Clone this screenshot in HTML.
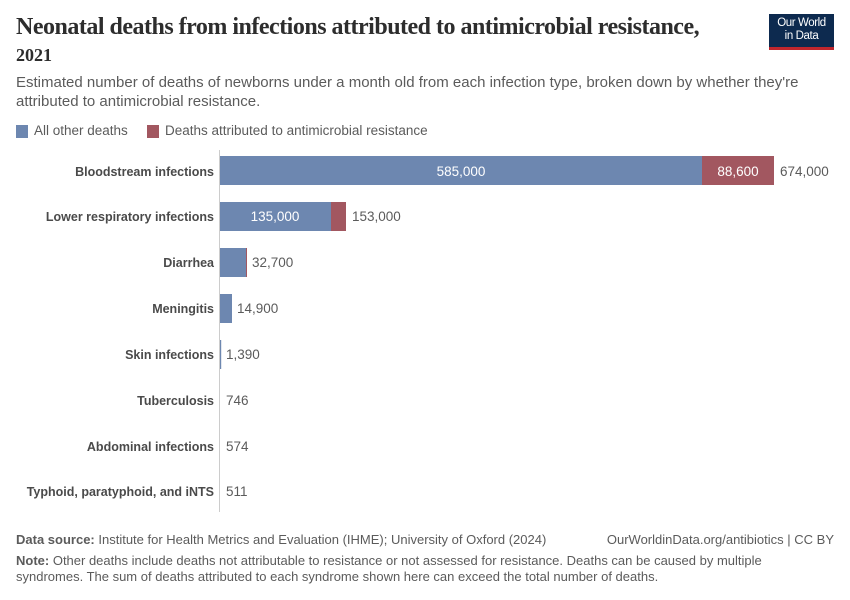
<!DOCTYPE html><html><head><meta charset="utf-8"><style>
body{margin:0;background:#fff;font-family:"Liberation Sans",sans-serif;}
.t{position:absolute;white-space:nowrap}
</style></head><body>
<div style="position:relative;width:850px;height:600px;overflow:hidden">
<div class="t" style="left:16px;top:14px;font-family:'Liberation Serif',serif;font-size:24px;font-weight:bold;color:#2d2d2d;letter-spacing:-0.5px">Neonatal deaths from infections attributed to antimicrobial resistance,</div>
<div class="t" style="left:16px;top:45px;font-family:'Liberation Serif',serif;font-size:18px;font-weight:bold;color:#2d2d2d">2021</div>
<div style="position:absolute;left:769px;top:14px;width:65px;height:36px;background:#0d2a4f;border-bottom:3px solid #c0262d;color:#fff;font-size:11.5px;line-height:13px;text-align:center;padding-top:3px;box-sizing:border-box;letter-spacing:-0.4px">Our World<br>in Data</div>
<div class="t" style="left:16px;top:73px;font-size:15px;color:#5b5b5b;line-height:19px">Estimated number of deaths of newborns under a month old from each infection type, broken down by whether they're<br>attributed to antimicrobial resistance.</div>
<div style="position:absolute;left:16px;top:125px;width:12px;height:13px;background:#6d87b0"></div>
<div class="t" style="left:34px;top:123px;font-size:13.5px;color:#5b5b5b">All other deaths</div>
<div style="position:absolute;left:147px;top:125px;width:12px;height:13px;background:#a25760"></div>
<div class="t" style="left:165px;top:123px;font-size:13.5px;color:#5b5b5b">Deaths attributed to antimicrobial resistance</div>
<svg width="850" height="600" style="position:absolute;left:0;top:0" font-family="Liberation Sans,sans-serif" font-size="13.5">
<line x1="219.5" y1="150" x2="219.5" y2="512" stroke="#ccc"/>
<g fill="#6d87b0">
<rect x="220" y="156" width="482" height="29"/>
<rect x="220" y="202" width="111" height="29"/>
<rect x="220" y="248" width="26" height="29"/>
<rect x="220" y="294" width="12" height="29"/>
<rect x="220" y="340" width="1.2" height="29"/>
</g>
<g fill="#a25760">
<rect x="702" y="156" width="72" height="29"/>
<rect x="331" y="202" width="15" height="29"/>
<rect x="246" y="248" width="1" height="29"/>
</g>
<g fill="#fff" text-anchor="middle"><text x="461" y="176">585,000</text><text x="275" y="221">135,000</text><text x="738" y="176">88,600</text></g>
<g fill="#5b5b5b"><text x="780" y="176">674,000</text><text x="352" y="221">153,000</text><text x="252" y="267">32,700</text><text x="237" y="313">14,900</text><text x="226" y="359">1,390</text><text x="226" y="405">746</text><text x="226" y="451">574</text><text x="226" y="496">511</text></g>
<g fill="#4a4a4a" font-weight="bold" font-size="12.5" text-anchor="end">
<text x="214" y="176">Bloodstream infections</text><text x="214" y="221">Lower respiratory infections</text><text x="214" y="267">Diarrhea</text><text x="214" y="313">Meningitis</text><text x="214" y="359">Skin infections</text><text x="214" y="405">Tuberculosis</text><text x="214" y="451">Abdominal infections</text><text x="214" y="496">Typhoid, paratyphoid, and iNTS</text></g>
</svg>
<div class="t" style="left:16px;top:532px;font-size:13px;color:#5b5b5b"><b>Data source:</b> Institute for Health Metrics and Evaluation (IHME); University of Oxford (2024)</div>
<div class="t" style="right:16px;top:532px;font-size:13px;color:#5b5b5b">OurWorldinData.org/antibiotics | CC BY</div>
<div class="t" style="left:16px;top:553px;font-size:13px;color:#5b5b5b;line-height:16px"><b>Note:</b> Other deaths include deaths not attributable to resistance or not assessed for resistance. Deaths can be caused by multiple<br>syndromes. The sum of deaths attributed to each syndrome shown here can exceed the total number of deaths.</div>
</div></body></html>
